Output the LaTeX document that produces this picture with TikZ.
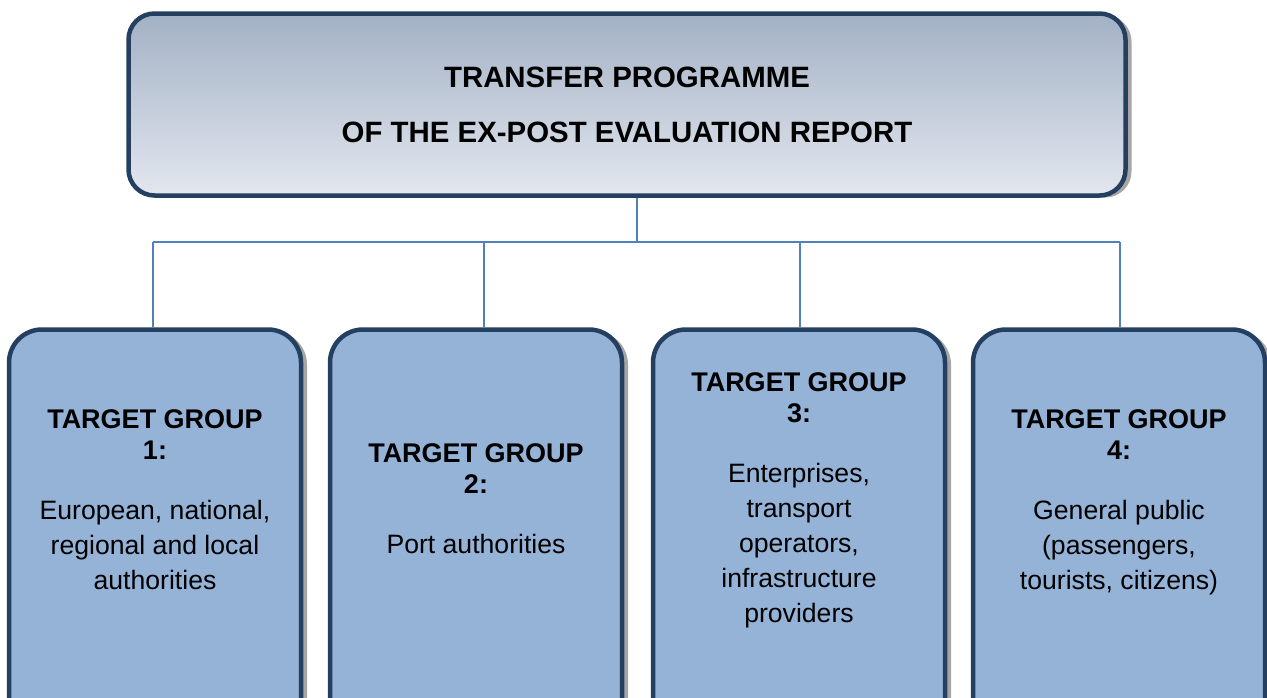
\documentclass[tikz,border=0pt]{standalone}
\usepackage{fontspec}
\setmainfont{Liberation Sans}
\usepackage{tikz}
\usetikzlibrary{positioning,shadows,backgrounds}

\definecolor{boxline}{HTML}{243F60}
\definecolor{boxfill}{HTML}{95B3D7}
\definecolor{headtop}{HTML}{A3B1C5}
\definecolor{headbottom}{HTML}{E3E7EF}
\definecolor{linkblue}{HTML}{4F81BD}

\newcommand{\grouphead}[1]{{\bfseries\fontsize{27}{35}\selectfont TARGET GROUP}\\[-4pt]{\bfseries\fontsize{27}{35}\selectfont #1:}\\[25pt]}

\tikzset{
  boxshadow/.style={drop shadow={shadow xshift=6pt, shadow yshift=-2pt, fill=gray!70, opacity=1}},
  headbox/.style={draw=boxline, line width=4.5pt, rounded corners=26pt,
    top color=headtop, bottom color=headbottom, boxshadow,
    minimum width=997pt, minimum height=182pt, align=center,
    font=\bfseries\fontsize{29.4}{55}\selectfont},
  groupbox/.style={draw=boxline, line width=4.5pt, rounded corners=33pt,
    fill=boxfill, boxshadow, minimum width=292pt, minimum height=430pt},
  grouptext/.style={anchor=north, align=center, inner sep=0pt,
    font=\fontsize{26.6}{35}\selectfont},
  link/.style={draw=linkblue, line width=1.5pt}
}

\begin{document}
\begin{tikzpicture}[x=1pt, y=-1pt]

\useasboundingbox (0,0) rectangle (1267,697);

\node[headbox] (head) at (627,104.5) {TRANSFER PROGRAMME\\OF THE EX-POST EVALUATION REPORT};

\foreach \i/\x in {1/155, 2/476, 3/799, 4/1119}
	\node[groupbox] (g\i) at (\x,544.5) {};

\node[grouptext] (t1) at (155,409) {\grouphead{1}European, national,\\regional and local\\authorities};
\node[grouptext] (t2) at (476,443) {\grouphead{2}Port authorities};
\node[grouptext] (t3) at (799,372) {\grouphead{3}Enterprises,\\transport\\operators,\\infrastructure\\providers};
\node[grouptext] (t4) at (1119,409) {\grouphead{4}General public\\(passengers,\\tourists, citizens)};

% tree of connectors
\coordinate (hub) at (637,242);
\foreach \i/\x in {1/153, 2/484, 3/800, 4/1120}
	\coordinate (bar\i) at (\x,242);

\begin{scope}[on background layer]
\draw[link] (head.south -| hub) -- (hub);
\draw[link] (bar1) -- (bar4);
\foreach \i in {1,...,4}
	\draw[link] (bar\i) -- (bar\i |- g\i.north);
\end{scope}

\end{tikzpicture}
\end{document}
